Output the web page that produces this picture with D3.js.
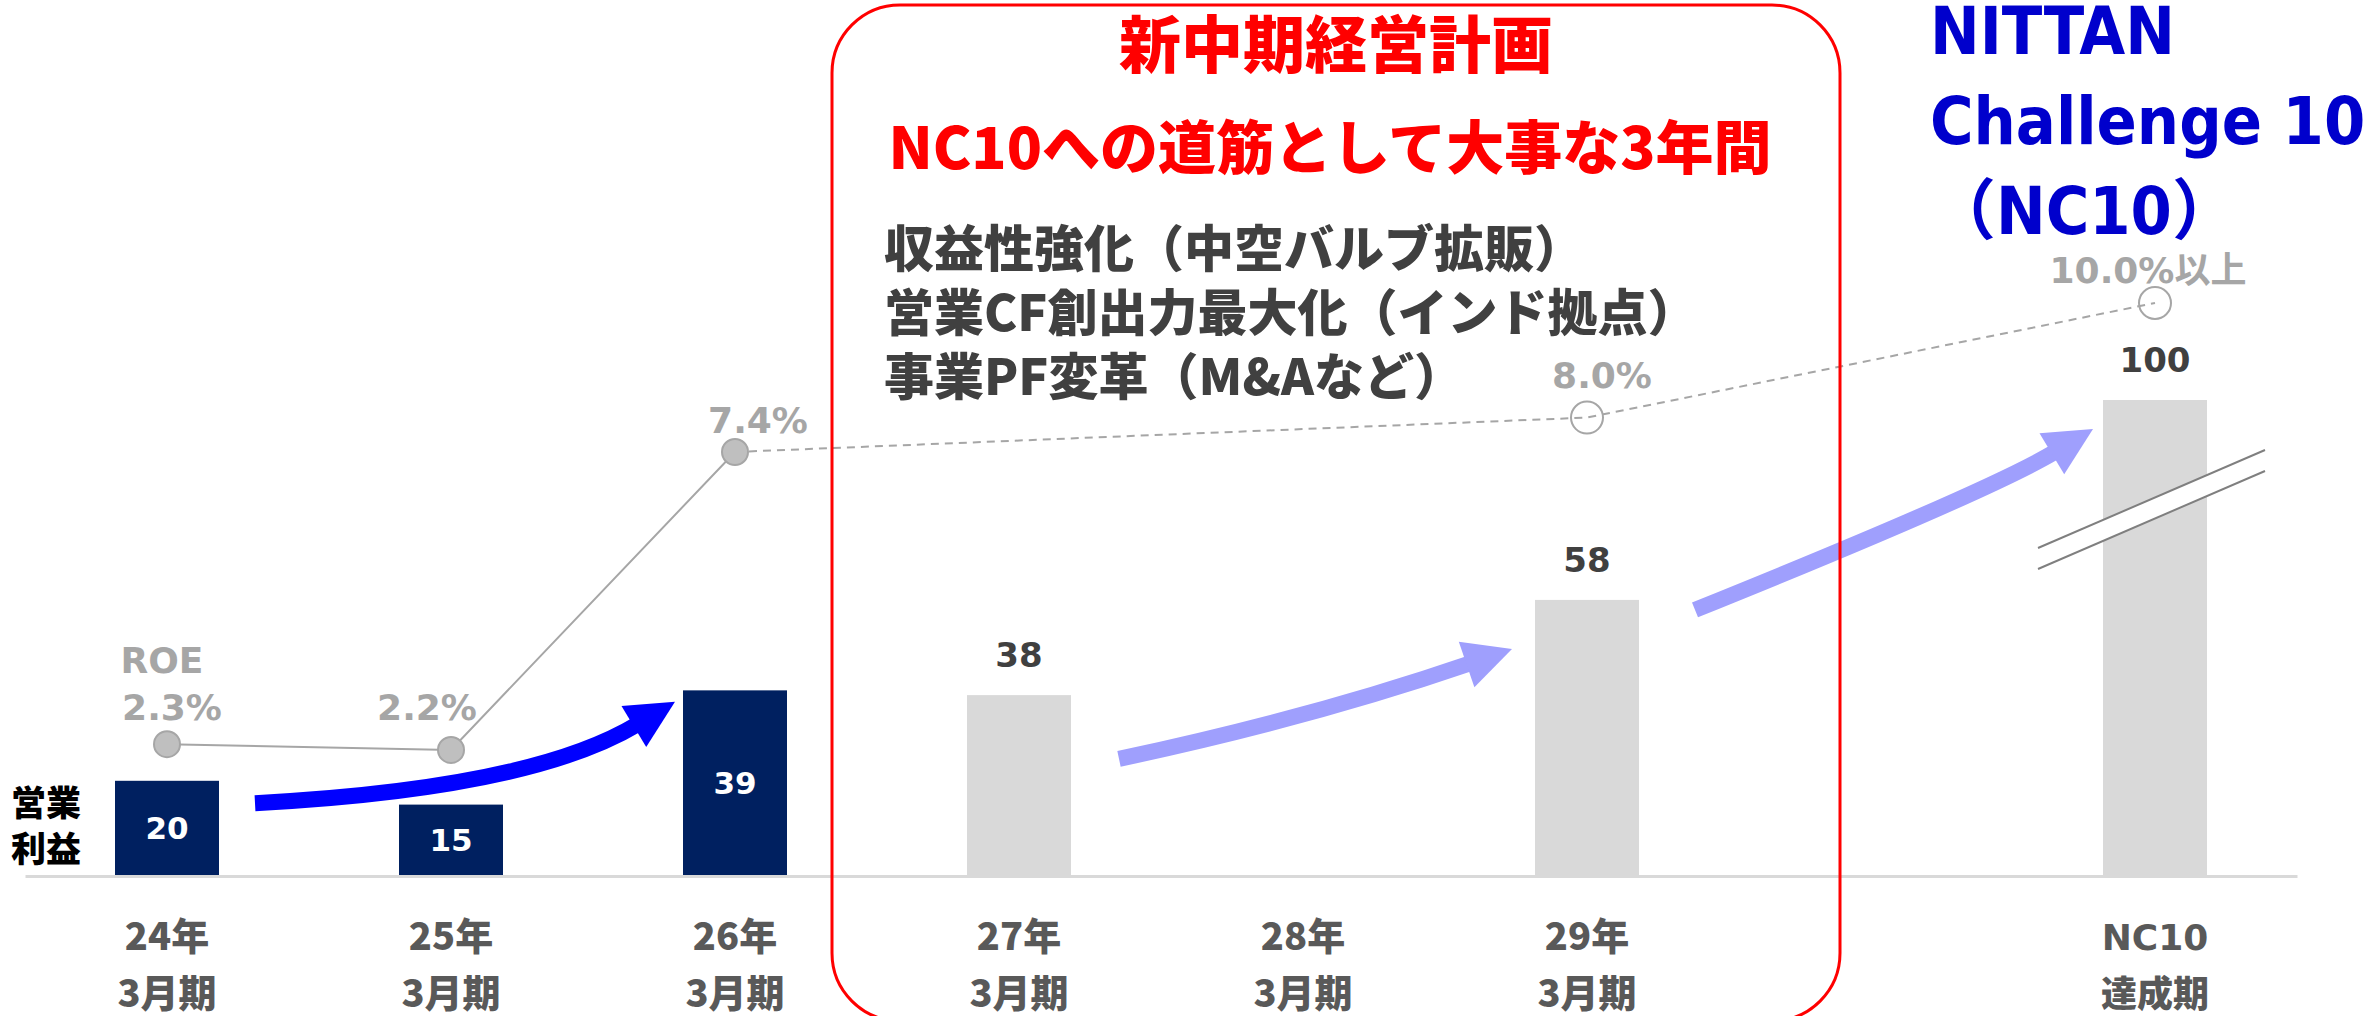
<!DOCTYPE html>
<html>
<head>
<meta charset="utf-8">
<script src="https://cdn.jsdelivr.net/npm/d3@7"></script>
<style>
  body { margin: 0; background: #fff; }
  svg { display: block; }
</style>
</head>
<body>
<svg id="chart"></svg>
<script>
// categories and values
const categories = ['24年', '25年', '26年', '27年', '28年', '29年', '', 'NC10'];
const periods = ['3月期', '3月期', '3月期', '3月期', '3月期', '3月期', '', '達成期'];
const profit = [20, 15, 39, 38, null, 58, null, 100];
const isActual = [true, true, true, false, false, false, false, false];
const roe = [2.3, 2.2, 7.4, null, null, 8.0, null, 10.0];
const roeText = ['2.3%', '2.2%', '7.4%', '', '', '8.0%', '', '10.0%以上'];

const planLines = ['収益性強化（中空バルブ拡販）', '営業CF創出力最大化（インド拠点）', '事業PF変革（M&Aなど）'];

const W = 2377, H = 1016;
const JP = "'Noto Sans CJK JP', sans-serif";
const NUM = "'DejaVu Sans', 'Noto Sans CJK JP', sans-serif";

const svg = d3.select('#chart').attr('width', W).attr('height', H);

const x = d3.scalePoint().domain(categories).range([25, 2297]).padding(0.5);
const y = d3.scaleLinear().domain([0, 100]).range([876, 400]);
const yRoe = d3.scaleLinear().domain([0, 10]).range([876, 303]);
const barW = 104;

const rows = categories.map((c, i) => ({
  c, v: profit[i], actual: isActual[i], roe: roe[i], roeLabel: roeText[i], period: periods[i]
}));

// bars
const bars = rows.filter(d => d.v != null);
svg.append('g').selectAll('rect')
  .data(bars)
  .join('rect')
  .attr('x', d => x(d.c) - barW / 2)
  .attr('y', d => y(d.v))
  .attr('width', barW)
  .attr('height', d => y(0) - y(d.v))
  .attr('fill', d => d.actual ? '#002060' : '#d9d9d9');

// value labels
svg.append('g').selectAll('text')
  .data(bars)
  .join('text')
  .attr('x', d => x(d.c))
  .attr('y', d => d.actual ? (y(d.v) + y(0)) / 2 + 11 : y(d.v) - 28)
  .attr('text-anchor', 'middle')
  .style('font-family', NUM)
  .style('font-weight', 'bold')
  .style('font-size', d => d.actual ? '31px' : '34px')
  .attr('fill', d => d.actual ? '#ffffff' : '#404040')
  .text(d => d.v);

// break mark on the NC10 bar
const bx0 = x('NC10') - 117, bx1 = x('NC10') + 110;
const by0 = y(68.9), by1 = y(89.5), gap = 21;
svg.append('path')
  .attr('d', `M${bx0},${by0}L${bx1},${by1}L${bx1},${by1 + gap}L${bx0},${by0 + gap}Z`)
  .attr('fill', '#fff');
[0, gap].forEach(off => {
  svg.append('line')
    .attr('x1', bx0).attr('y1', by0 + off)
    .attr('x2', bx1).attr('y2', by1 + off)
    .attr('stroke', '#7f7f7f')
    .attr('stroke-width', 2);
});

// x axis
svg.append('g')
  .attr('transform', `translate(0,${y(0)})`)
  .call(d3.axisBottom(x).tickSize(0).tickSizeOuter(0).tickFormat(''))
  .call(g => g.select('.domain').attr('stroke', '#d9d9d9').attr('stroke-width', 3));

const labels = svg.append('g')
  .style('font-weight', 'bold')
  .attr('fill', '#595959')
  .attr('text-anchor', 'middle');
labels.selectAll('text.cat')
  .data(rows.filter(d => d.c))
  .join('text')
  .attr('class', 'cat')
  .attr('x', d => x(d.c))
  .attr('y', 950)
  .style('font-family', d => d.c === 'NC10' ? NUM : JP)
  .style('font-weight', d => d.c === 'NC10' ? 'bold' : 900)
  .style('font-size', d => d.c === 'NC10' ? '36px' : '38px')
  .text(d => d.c);
labels.selectAll('text.per')
  .data(rows.filter(d => d.period))
  .join('text')
  .attr('class', 'per')
  .attr('x', d => x(d.c))
  .attr('y', 1007)
  .style('font-family', JP)
  .style('font-weight', 900)
  .style('font-size', d => d.c === 'NC10' ? '36px' : '38px')
  .text(d => d.period);

// y label
svg.append('text')
  .attr('x', 12)
  .style('font-family', JP)
  .style('font-weight', 900)
  .style('font-size', '35px')
  .attr('fill', '#000')
  .selectAll('tspan')
  .data(['営業', '利益'])
  .join('tspan')
  .attr('x', 11)
  .attr('y', (d, i) => 816 + i * 46)
  .text(d => d);

// ROE line
const roePts = rows.filter(d => d.roe != null);
const line = d3.line().x(d => x(d.c)).y(d => yRoe(d.roe));
svg.append('path')
  .datum(roePts.filter(d => d.actual))
  .attr('d', line)
  .attr('fill', 'none')
  .attr('stroke', '#a6a6a6')
  .attr('stroke-width', 2);
svg.append('path')
  .datum(roePts.filter((d, i) => !d.actual || i === 2))
  .attr('d', line)
  .attr('fill', 'none')
  .attr('stroke', '#a6a6a6')
  .attr('stroke-width', 2)
  .attr('stroke-dasharray', '8,6');

svg.append('g').selectAll('circle')
  .data(roePts)
  .join('circle')
  .attr('cx', d => x(d.c))
  .attr('cy', d => yRoe(d.roe))
  .attr('r', d => d.actual ? 13 : 16)
  .attr('fill', d => d.actual ? '#bfbfbf' : 'none')
  .attr('stroke', '#a6a6a6')
  .attr('stroke-width', 2);

// ROE labels (small nudges to sit like the original)
const nudge = { '24年': [5, -24], '25年': [-24, -30], '26年': [23, -19], '29年': [15, -30], 'NC10': [-7, -20] };
svg.append('g').selectAll('text')
  .data(roePts)
  .join('text')
  .attr('x', d => x(d.c) + nudge[d.c][0])
  .attr('y', d => yRoe(d.roe) + nudge[d.c][1])
  .attr('text-anchor', 'middle')
  .style('font-family', NUM)
  .style('font-weight', 'bold')
  .style('font-size', '36px')
  .attr('fill', '#a6a6a6')
  .text(d => d.roeLabel);
svg.append('text')
  .attr('x', x('24年') - 5)
  .attr('y', yRoe(2.3) - 71)
  .attr('text-anchor', 'middle')
  .style('font-family', NUM)
  .style('font-weight', 'bold')
  .style('font-size', '36px')
  .attr('fill', '#a6a6a6')
  .text('ROE');

// growth arrows
const arrows = [
  { from: ['24年', 88, 15.3], ctrl: ['25年', 79, 18.3], to: ['26年', -60, 36.6], color: '#0000ff' },
  { from: ['27年', 100, 24.6], ctrl: ['28年', 8, 33.2], to: ['29年', -75, 47.7], color: '#9f9ffd' },
  { from: ['29年', 108, 55.9], ctrl: ['', 119, 80.9], to: ['NC10', -62, 93.9], color: '#9f9ffd' }
];
const pt = p => [x(p[0]) + p[1], y(p[2])];
arrows.forEach(a => {
  const p0 = pt(a.from), c = pt(a.ctrl), p1 = pt(a.to);
  const dx = p1[0] - c[0], dy = p1[1] - c[1];
  const len = Math.hypot(dx, dy);
  const ux = dx / len, uy = dy / len;
  const headLen = 48, headW = 48;
  const base = [p1[0] - ux * headLen, p1[1] - uy * headLen];
  svg.append('path')
    .attr('d', `M${p0[0]},${p0[1]}Q${c[0]},${c[1]} ${base[0] + ux * 4},${base[1] + uy * 4}`)
    .attr('fill', 'none')
    .attr('stroke', a.color)
    .attr('stroke-width', 16);
  const px = -uy, py = ux;
  svg.append('path')
    .attr('d', `M${p1[0]},${p1[1]}L${base[0] + px * headW / 2},${base[1] + py * headW / 2}L${base[0] - px * headW / 2},${base[1] - py * headW / 2}Z`)
    .attr('fill', a.color);
});

// mid-term plan box
svg.append('rect')
  .attr('x', 832).attr('y', 5)
  .attr('width', 1008).attr('height', 1016)
  .attr('rx', 68).attr('ry', 68)
  .attr('fill', 'none')
  .attr('stroke', '#ff0000')
  .attr('stroke-width', 3);

svg.append('text')
  .attr('x', 1336).attr('y', 68)
  .attr('text-anchor', 'middle')
  .style('font-family', JP).style('font-weight', 900).style('font-size', '62px')
  .attr('fill', '#ff0000')
  .text('新中期経営計画');
svg.append('text')
  .attr('x', 1330).attr('y', 169)
  .attr('text-anchor', 'middle')
  .style('font-family', JP).style('font-weight', 900).style('font-size', '58px')
  .attr('fill', '#ff0000')
  .text('NC10への道筋として大事な3年間');

svg.append('g').selectAll('text')
  .data(planLines)
  .join('text')
  .attr('x', 884)
  .attr('y', (d, i) => 267 + i * 64)
  .style('font-family', JP).style('font-weight', 900).style('font-size', '50px')
  .attr('fill', '#404040')
  .text(d => d);

// NC10 title
const blue = svg.append('text')
  .style('font-family', "'DejaVu Sans Condensed', 'DejaVu Sans', 'Noto Sans CJK JP', sans-serif")
  .style('font-stretch', 'condensed')
  .style('font-weight', 'bold')
  .style('font-size', '66px')
  .attr('fill', '#0000cc');
blue.selectAll('tspan')
  .data(['NITTAN', 'Challenge 10', '（NC10）'])
  .join('tspan')
  .attr('x', 1930)
  .attr('y', (d, i) => 54 + i * 90)
  .text(d => d);
</script>
</body>
</html>
